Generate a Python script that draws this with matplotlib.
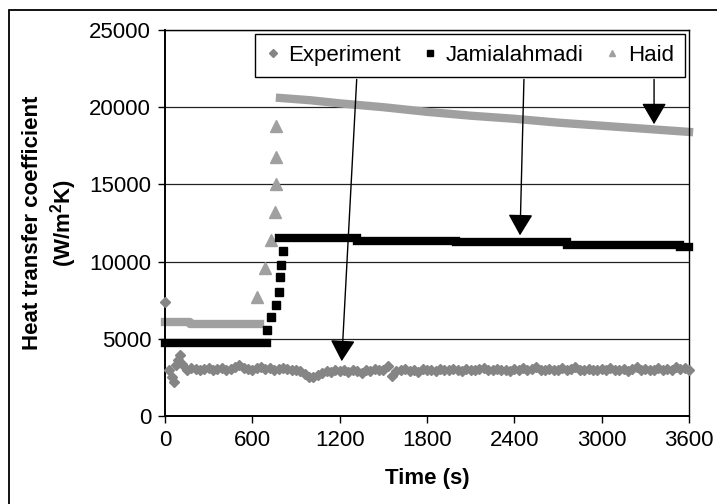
import numpy as np
import matplotlib
matplotlib.use("Agg")
import matplotlib.pyplot as plt
from matplotlib.lines import Line2D
from matplotlib.patches import Rectangle

plt.rcParams['font.family'] = ['Liberation Sans', 'DejaVu Sans']
plt.rcParams['mathtext.fontset'] = 'custom'
plt.rcParams['mathtext.rm'] = 'Liberation Sans'
plt.rcParams['mathtext.bf'] = 'Liberation Sans:bold'

# Experiment (gray diamonds)
exp_time = np.concatenate([[0, 30, 45, 60, 75, 90, 105, 120], np.arange(150, 3601, 30)])
exp_val = [7400, 2950, 2500, 2200, 3300, 3650, 3950, 3400,
           # 150 - 600
           3000, 3100, 3050, 2950, 3050, 3100, 3000, 3050, 3100, 3000, 3050, 3150, 3300, 3100, 3050, 3000,
           # 630 - 990
           3100, 3150, 3050, 3100, 3000, 3050, 3100, 3050, 2950, 3000, 2900, 2750, 2550,
           # 1020 - 1500
           2500, 2650, 2800, 2900, 2850, 2950, 2900, 3000, 2850, 2950, 2900, 2800, 3000, 2900, 3050, 2950, 3000,
           # 1530 - 3600
           3250, 2600, 2900, 2950, 3050, 2900, 3000, 2850, 3050, 2950,
           3000, 2900, 3050, 3000, 2950, 3050, 3000, 2900, 3050, 3000,
           2950, 3050, 3100, 2950, 3000, 3050, 2950, 3000, 2900, 3050,
           3000, 3100, 2950, 3050, 3150, 3000, 2950, 3050, 3000, 2950,
           3100, 3000, 3050, 3150, 3000, 2950, 3050, 2950, 3000, 3050,
           2950, 3100, 3000, 2950, 3050, 2900, 3050, 3150, 3000, 3050,
           2950, 3000, 3100, 2950, 3050, 3000, 3150, 3050, 3100, 3000]

# Jamialahmadi (black squares): flat parts as step levels, ramp as points
jam_step_start = [0, 780, 1320, 2000, 2760, 3540]
jam_step_end = [700, 1320, 2000, 2760, 3540, 3600]
jam_step_level = [4750, 11500, 11350, 11250, 11100, 10950]
jam_ramp_time = [700, 730, 760, 780, 790, 800, 810]
jam_ramp_val = [5600, 6400, 7200, 8000, 9000, 9800, 10700]

# Haid (light gray triangles)
haid_flat_time = [0, 170, 170, 650]
haid_flat_val = [6100, 6100, 5950, 5950]
haid_ramp_time = [630, 690, 730, 755, 762, 764, 766]
haid_ramp_val = [7700, 9600, 11400, 13200, 15000, 16800, 18800]
haid_decay_time = [790, 1000, 1200, 1500, 1800, 2100, 2400, 2700, 3000, 3300, 3600]
haid_decay_val = [20600, 20450, 20250, 20000, 19700, 19450, 19250, 19000, 18800, 18600, 18400]

# arrows: (start time, start value, tip time, tip value)
arrows = [(1317, 21800, 1214, 3550),
          (2466, 21800, 2439, 11700),
          (3360, 21800, 3360, 18900)]

grey_exp = '#858585'
grey_haid = '#a0a0a0'
fs = 16

fig = plt.figure(figsize=(7.17, 5.04), dpi=100)
ax = fig.add_axes([165 / 717, 1 - 416 / 504, 524 / 717, 386 / 504])

ax.plot(exp_time, exp_val, linestyle='none', marker='D', markersize=5,
        color=grey_exp, mec=grey_exp, clip_on=False, zorder=3)

ax.hlines(jam_step_level, jam_step_start, jam_step_end, colors='k', linewidth=6,
          capstyle='projecting', clip_on=False, zorder=4)
ax.plot(jam_ramp_time, jam_ramp_val, linestyle='none', marker='s', markersize=6,
        color='k', clip_on=False, zorder=4)

ax.plot(haid_flat_time, haid_flat_val, color=grey_haid, linewidth=6, clip_on=False, zorder=2)
ax.plot(haid_ramp_time, haid_ramp_val, linestyle='none', marker='^', markersize=8,
        color=grey_haid, clip_on=False, zorder=2)
ax.plot(haid_decay_time, haid_decay_val, color=grey_haid, linewidth=6,
        solid_capstyle='projecting', clip_on=False, zorder=2)

for x0, y0, x1, y1 in arrows:
    ax.annotate('', xy=(x1, y1), xytext=(x0, y0),
                arrowprops=dict(arrowstyle='-|>,head_length=0.6,head_width=0.35',
                                color='k', lw=1, mutation_scale=22,
                                shrinkA=0, shrinkB=0), zorder=5)

ax.set_xlim(0, 3600)
ax.set_ylim(0, 25000)
ax.set_xticks(np.arange(0, 3601, 600))
ax.set_yticks(np.arange(0, 25001, 5000))
ax.tick_params(direction='out', length=5, width=1, labelsize=fs, colors='k', pad=5)
ax.yaxis.grid(True, color='#222222', linewidth=0.9)
ax.set_axisbelow(True)
for side in ['left', 'bottom']:
    ax.spines[side].set_linewidth(1.4)
for side in ['top', 'right']:
    ax.spines[side].set_linewidth(1.0)

ax.set_xlabel('Time (s)', fontsize=fs, fontweight='bold')
ax.xaxis.set_label_coords(0.5, -0.135)
ax.set_ylabel('Heat transfer coefficient\n(W/m$^{\\mathbf{2}}$K)', fontsize=fs,
              fontweight='bold', linespacing=1.2)
ax.yaxis.set_label_coords(-0.165, 0.5)

handles = [Line2D([], [], linestyle='none', marker='D', markersize=4, color=grey_exp),
           Line2D([], [], linestyle='none', marker='s', markersize=5, color='k'),
           Line2D([], [], linestyle='none', marker='^', markersize=5, color=grey_haid)]
leg = ax.legend(handles, ['Experiment', 'Jamialahmadi', 'Haid'], ncol=3, fontsize=fs,
                loc='upper right', bbox_to_anchor=(0.992, 0.99), borderaxespad=0,
                handlelength=0.6, handletextpad=0.4, columnspacing=1.0,
                fancybox=False, framealpha=1, edgecolor='k', borderpad=0.5)
leg.get_frame().set_linewidth(1.0)
leg.set_zorder(6)

# outer chart border
fig.add_artist(Rectangle((9 / 717, -0.1), 1.1, 1.1 - 10 / 504, transform=fig.transFigure,
                         fill=False, edgecolor='k', linewidth=1.3))

fig.savefig('out.png', dpi=100)
